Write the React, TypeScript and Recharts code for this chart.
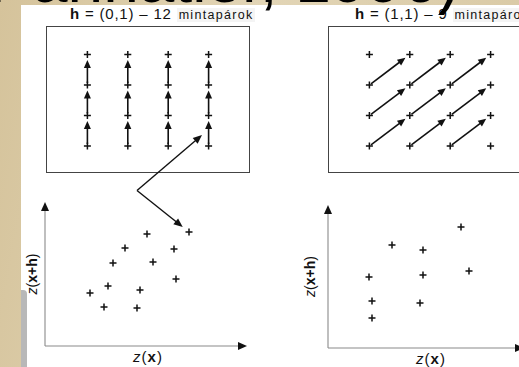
import React from 'react';
import { ScatterChart, Scatter, XAxis, YAxis, ReferenceLine } from 'recharts';

// sampling grid: column and row index of every sample
const gridCols = [1, 2, 3, 4];
const gridRows = [1, 2, 3, 4];

// lag vectors h
const lagNorth = { dx: 0, dy: 1 };
const lagNorthEast = { dx: 1, dy: 1 };

// h-scatterplots, z(x) against z(x+h)
const northZx = [5.1, 7.2, 4.0, 6.45, 3.4, 5.4, 6.55, 3.15, 2.25, 4.75, 2.95, 4.6];
const northZxh = [7.78, 7.92, 6.81, 6.74, 5.76, 5.83, 4.65, 4.17, 3.68, 3.89, 2.71, 2.64];
const northEastZx = [6.65, 3.2, 4.75, 7.05, 2.05, 4.75, 2.2, 4.6, 2.2];
const northEastZxh = [8.46, 7.2, 6.85, 5.38, 4.97, 5.1, 3.29, 3.15, 2.1];

// callout from one sample pair to its point on the scatterplot (scatter units)
const calloutBend = { x: 4.6, y: 10.8 };
const calloutPairTip = { x: 7.85, y: 14.65 };
const calloutPointIndex = 1;

const INK = '#111';
const FONT = '"Liberation Sans", Arial, sans-serif';

type Pt = { x: number; y: number };

const gridPoints: Pt[] = gridRows.flatMap((y) => gridCols.map((x) => ({ x, y })));

// every pair of samples that is separated by the lag
const lagPairs = (lag: { dx: number; dy: number }): [Pt, Pt][] =>
    gridPoints
        .filter((p) => gridCols.includes(p.x + lag.dx) && gridRows.includes(p.y + lag.dy))
        .map((p) => [p, { x: p.x + lag.dx, y: p.y + lag.dy }]);

const toPoints = (zx: number[], zxh: number[]): Pt[] => zx.map((x, i) => ({ x, y: zxh[i] }));

const northPoints = toPoints(northZx, northZxh);
const northEastPoints = toPoints(northEastZx, northEastZxh);

const Plus = (props: any) => {
    const { cx, cy } = props;
    if (cx == null || cy == null) return null;
    return (
        <path
            d={`M${cx - 3.5},${cy}H${cx + 3.5}M${cx},${cy - 3.5}V${cy + 3.5}`}
            stroke={INK}
            strokeWidth={1.5}
            fill="none"
        />
    );
};

type ArrowOpts = { gapStart?: number; gapEnd?: number; line?: string; width?: number; head?: number; half?: number };

// line with a filled head, drawn between the two computed ends of a ReferenceLine segment
const arrowShape = (o: ArrowOpts) => (p: any) => {
    const { x1, y1, x2, y2 } = p;
    if ([x1, y1, x2, y2].some((v) => v == null || isNaN(v))) return null;
    const { gapStart = 0, gapEnd = 0, line = INK, width = 1.5, head = 8, half = 3.5 } = o;
    const len = Math.hypot(x2 - x1, y2 - y1) || 1;
    const ux = (x2 - x1) / len;
    const uy = (y2 - y1) / len;
    const sx = x1 + ux * gapStart;
    const sy = y1 + uy * gapStart;
    const tx = x2 - ux * gapEnd;
    const ty = y2 - uy * gapEnd;
    const bx = tx - ux * head;
    const by = ty - uy * head;
    return (
        <g>
            <line x1={sx} y1={sy} x2={bx + ux} y2={by + uy} stroke={line} strokeWidth={width} />
            <polygon
                points={`${tx},${ty} ${bx - uy * half},${by + ux * half} ${bx + uy * half},${by - ux * half}`}
                fill={INK}
            />
        </g>
    );
};

const pairArrow = arrowShape({ gapStart: 2, gapEnd: 5.5, width: 1.6 });
const axisArrow = arrowShape({ line: '#8a8a8a', width: 1.1, head: 9, half: 4 });
const calloutArrow = arrowShape({ width: 1.4, head: 9, half: 3.8 });
const calloutPointArrow = arrowShape({ gapEnd: 8, width: 1.4, head: 9, half: 3.8 });

const axisLabel = (which: 'x' | 'y') => (props: any) => {
    const vb = props.viewBox || {};
    const cx = vb.x + vb.width / 2;
    const cy = vb.y + vb.height / 2;
    if (which === 'x') {
        return (
            <text
                x={cx + 3}
                y={cy - 4}
                textAnchor="middle"
                dominantBaseline="central"
                fontFamily={FONT}
                fontSize={15}
                letterSpacing={1}
                fill={INK}
            >
                <tspan fontStyle="italic">z</tspan>(<tspan fontWeight="bold">x</tspan>)
            </text>
        );
    }
    return (
        <text
            transform={`translate(${cx},${cy}) rotate(-90)`}
            textAnchor="middle"
            dominantBaseline="central"
            fontFamily={FONT}
            fontSize={14}
            fill={INK}
        >
            <tspan fontStyle="italic">z</tspan>(<tspan fontWeight="bold">x+h</tspan>)
        </text>
    );
};

const PairPanel = ({ left, lag }: { left: number; lag: { dx: number; dy: number } }) => (
    <div style={{ position: 'absolute', left, top: 26, width: 202, height: 145, border: '1px solid #444' }}>
        <ScatterChart width={202} height={145} margin={{ top: 0, right: 0, bottom: 0, left: 0 }}>
            <XAxis type="number" dataKey="x" domain={[0, 5]} hide />
            <YAxis type="number" dataKey="y" domain={[0.15, 4.9]} hide />
            {lagPairs(lag).map(([a, b], i) => (
                <ReferenceLine key={i} segment={[a, b]} ifOverflow="visible" shape={pairArrow} />
            ))}
            <Scatter data={gridPoints} shape={Plus} isAnimationActive={false} />
        </ScatterChart>
    </div>
);

const Title = ({ left, lag, pairs }: { left: number; lag: string; pairs: number }) => (
    <div
        style={{
            position: 'absolute',
            left,
            top: 7,
            lineHeight: '14px',
            fontFamily: FONT,
            color: INK,
            whiteSpace: 'nowrap',
        }}
    >
        <b style={{ fontSize: 15, letterSpacing: 0.8 }}>h</b>
        <span style={{ fontSize: 15, letterSpacing: 0.8 }}>{` = ${lag} – ${pairs} `}</span>
        <span style={{ fontSize: 12.5, letterSpacing: 1.3, background: '#f4f4f4', padding: '0 2px' }}>mintapárok</span>
    </div>
);

export default function App() {
    const calloutTarget = northPoints[calloutPointIndex];
    return (
        <div
            style={{
                position: 'fixed',
                left: 0,
                top: 0,
                width: 519,
                height: 367,
                overflow: 'hidden',
                background: 'linear-gradient(100deg, #d5c39b 0%, #e2d5b6 45%, #d8c8a3 100%)',
            }}
        >
            {/* white figure */}
            <div style={{ position: 'absolute', left: 21, top: 5, right: 0, bottom: 0, background: '#fff' }} />
            <div style={{ position: 'absolute', left: 21, top: 290, width: 6, bottom: 0, background: '#b8b8b8', borderTopRightRadius: 4 }} />

            <Title left={70} lag="(0,1)" pairs={12} />
            <Title left={355} lag="(1,1)" pairs={9} />

            <PairPanel left={46} lag={lagNorth} />
            <PairPanel left={328} lag={lagNorthEast} />

            {/* h-scatterplot for h = (0,1), with the callout */}
            <div style={{ position: 'absolute', left: 19, top: 125 }}>
                <ScatterChart width={238} height={249} margin={{ top: 77, right: 12, bottom: 0, left: 0 }}>
                    <XAxis type="number" dataKey="x" domain={[0, 10]} height={28} axisLine={false} tickLine={false} tick={false} label={axisLabel('x')} />
                    <YAxis type="number" dataKey="y" domain={[0, 10]} width={26} axisLine={false} tickLine={false} tick={false} label={axisLabel('y')} />
                    <ReferenceLine segment={[{ x: 0, y: 0 }, { x: 0, y: 10 }]} ifOverflow="visible" shape={axisArrow} />
                    <ReferenceLine segment={[{ x: 0, y: 0 }, { x: 10.1, y: 0 }]} ifOverflow="visible" shape={axisArrow} />
                    <ReferenceLine segment={[calloutBend, calloutPairTip]} ifOverflow="visible" shape={calloutArrow} />
                    <ReferenceLine segment={[calloutBend, calloutTarget]} ifOverflow="visible" shape={calloutPointArrow} />
                    <Scatter data={northPoints} shape={Plus} isAnimationActive={false} />
                </ScatterChart>
            </div>

            {/* h-scatterplot for h = (1,1) */}
            <div style={{ position: 'absolute', left: 292, top: 195 }}>
                <ScatterChart width={248} height={181} margin={{ top: 10, right: 12, bottom: 0, left: 0 }}>
                    <XAxis type="number" dataKey="x" domain={[0, 10]} height={28} axisLine={false} tickLine={false} tick={false} label={axisLabel('x')} />
                    <YAxis type="number" dataKey="y" domain={[0, 10]} width={36} axisLine={false} tickLine={false} tick={false} label={axisLabel('y')} />
                    <ReferenceLine segment={[{ x: 0, y: 0 }, { x: 0, y: 10 }]} ifOverflow="visible" shape={axisArrow} />
                    <ReferenceLine segment={[{ x: 0, y: 0 }, { x: 9.8, y: 0 }]} ifOverflow="visible" shape={axisArrow} />
                    <Scatter data={northEastPoints} shape={Plus} isAnimationActive={false} />
                </ScatterChart>
            </div>

            {/* slide heading, only its lower edge shows above the figure */}
            <div
                style={{
                    position: 'absolute',
                    left: -32,
                    top: -52,
                    fontFamily: FONT,
                    fontSize: 64,
                    lineHeight: '64px',
                    color: '#000',
                    whiteSpace: 'nowrap',
                }}
            >
                (Pannatier, 1996)
            </div>
        </div>
    );
}
